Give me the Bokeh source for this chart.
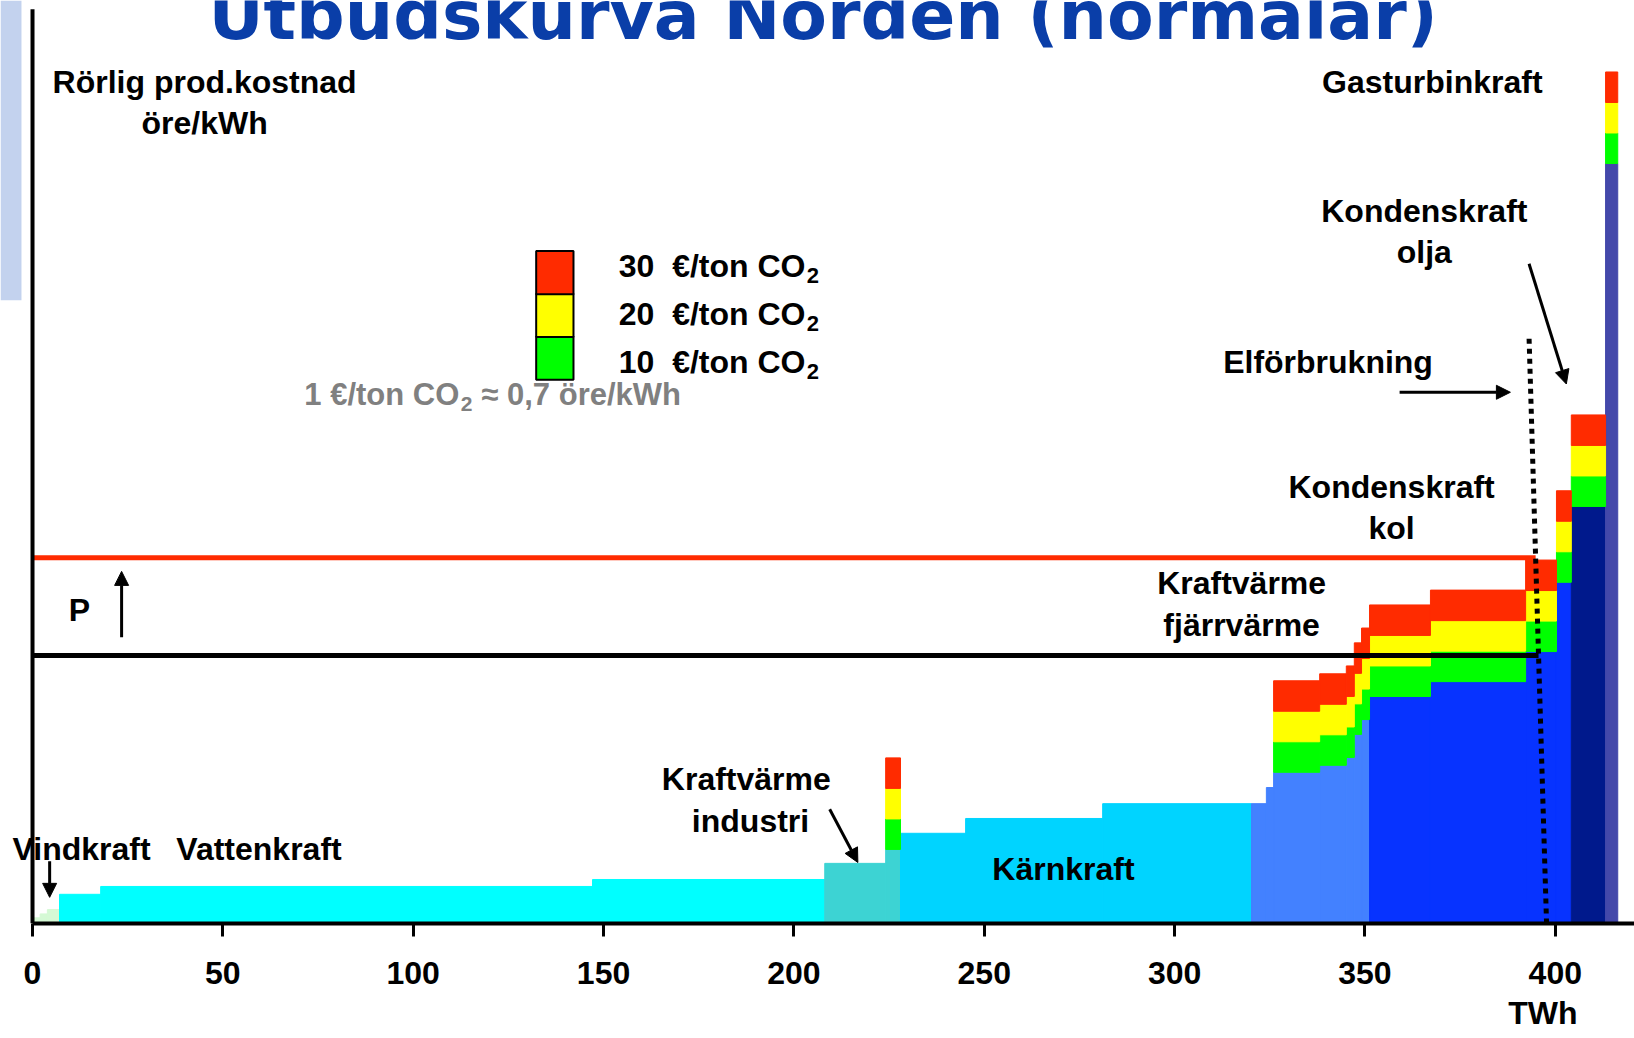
import numpy as np
from bokeh.plotting import figure
from bokeh.models import (Range1d, LinearAxis, FixedTicker, Arrow, NormalHead,
                          Title, BoxAnnotation)
from bokeh.core.properties import value
from bokeh.embed import file_html
from bokeh.resources import INLINE

# ---------------- data ----------------
technology = (["Vindkraft"] * 3 + ["Vattenkraft"] * 3 + ["Kraftvärme industri"] * 2 +
              ["Kärnkraft"] * 3 + ["Kraftvärme fjärrvärme"] * 7 + ["Kondenskraft kol"] * 4 +
              ["Kondenskraft olja"] + ["Gasturbinkraft"])
twh_start = [0.0, 2.0, 3.9, 7.1, 17.9, 147.1, 208.1, 224.1, 228.0, 245.1, 281.1,
             320.2, 324.1, 326.0, 338.1, 345.1, 347.2, 349.1,
             351.2, 367.2, 392.2, 400.3, 404.2, 413.2]
twh_end = [2.0, 3.9, 7.1, 17.9, 147.1, 208.1, 224.1, 228.0, 245.1, 281.1, 320.2,
           324.1, 326.0, 338.1, 345.1, 347.2, 349.1, 351.2,
           367.2, 392.2, 400.3, 404.2, 413.2, 416.4]
cost_ore_kwh = [1.3, 2.2, 3.2, 6.7, 8.5, 10.1, 13.8, 17.0, 20.7, 24.1, 27.5,
                27.5, 31.2, 34.7, 36.3, 38.1, 43.4, 46.8,
                52.1, 55.5, 62.4, 78.3, 95.7, 174.4]
co2_add_per_10eur = [0, 0, 0, 0, 0, 0, 0, 7, 0, 0, 0,
                     0, 0, 7, 7, 7, 7, 7,
                     7, 7, 7, 7, 7, 7]
co2_levels = [10, 20, 30]           # €/ton CO2
price_no_co2 = 61.5                 # öre/kWh
price_co2_30 = 83.9                 # öre/kWh
demand_cost = [0.0, 134.5]          # öre/kWh
demand_twh = [397.7, 393.1]         # TWh
x_ticks = [0, 50, 100, 150, 200, 250, 300, 350, 400]

# ---------------- styling ----------------
tech_color = {
    "Vindkraft": "#d5f9d5",
    "Vattenkraft": "#00ffff",
    "Kraftvärme industri": "#3dd3d3",
    "Kärnkraft": "#00d4ff",
    "Kraftvärme fjärrvärme": "#4381ff",
    "Kondenskraft kol": "#0733ff",
    "Kondenskraft olja": "#00198c",
    "Gasturbinkraft": "#4448aa",
}
level_color = {10: "#00ff00", 20: "#ffff00", 30: "#ff2b00"}
FONT = value("Liberation Sans")

X0, X1 = -8.41, 420.8
Y1 = 211.8
p = figure(width=1634, height=1038, output_backend="svg", toolbar_location=None,
           x_range=Range1d(X0, X1), y_range=Range1d(0, Y1),
           x_axis_location=None, y_axis_location=None,
           min_border_left=0, min_border_right=0, min_border_top=0,
           min_border_bottom=115)
p.grid.grid_line_color = None
p.outline_line_color = None
p.background_fill_color = "white"
p.border_fill_color = "white"

# slide decoration at the left edge
p.add_layout(BoxAnnotation(left=X0, right=-2.9, bottom=143, top=Y1,
                           fill_color="#c3d2ee", fill_alpha=1.0, line_color=None))

# base blocks
cols = [tech_color[t] for t in technology]
p.quad(left=twh_start, right=twh_end, bottom=0, top=cost_ore_kwh,
       fill_color=cols, line_color=cols, line_width=1)

# CO2 layers
for i, lvl in enumerate(co2_levels):
    L, R, B, T = [], [], [], []
    for s, e, c, d in zip(twh_start, twh_end, cost_ore_kwh, co2_add_per_10eur):
        if d > 0:
            L.append(s); R.append(e); B.append(c + i * d); T.append(c + (i + 1) * d)
    p.quad(left=L, right=R, bottom=B, top=T, fill_color=level_color[lvl],
           line_color=level_color[lvl], line_width=1)

# price lines up to demand curve
for price, colr in [(price_co2_30, "#ff2b00"), (price_no_co2, "black")]:
    x_end = float(np.interp(price, demand_cost, demand_twh))
    p.line([0, x_end], [price, price], line_color=colr, line_width=5)

# demand (Elförbrukning) dotted line
p.line(demand_twh, demand_cost, line_color="black", line_width=5, line_dash="5 5")

# y axis line (no ticks) and x axis
p.line([0, 0], [0, 209.8], line_color="black", line_width=4)
xaxis = LinearAxis(ticker=FixedTicker(ticks=x_ticks), bounds=(0, X1))
xaxis.axis_line_width = 4
xaxis.axis_line_color = "black"
xaxis.major_tick_line_width = 3
xaxis.major_tick_out = 13
xaxis.major_tick_in = 0
xaxis.minor_tick_line_color = None
xaxis.major_label_text_font = "Liberation Sans"
xaxis.major_label_text_font_style = "bold"
xaxis.major_label_text_font_size = "32px"
xaxis.major_label_text_color = "black"
xaxis.major_label_standoff = 25
p.add_layout(xaxis, "below")

# unit of the x axis, bottom right
p.add_layout(Title(text="TWh", align="right", offset=57, standoff=13,
                   text_font="Liberation Sans", text_font_style="bold",
                   text_font_size="32px", text_color="black"), "below")

# legend swatches
sw_left, sw_right = 132.3, 142.1
sw_bottoms = {10: 124.8, 20: 134.6, 30: 144.4}
sw_h = 9.9
for lvl in co2_levels:
    p.quad(left=[sw_left], right=[sw_right], bottom=[sw_bottoms[lvl]],
           top=[sw_bottoms[lvl] + sw_h], fill_color=level_color[lvl],
           line_color="black", line_width=2)
leg_y = [150.9, 139.9, 128.8]
p.text(x=[154.0] * 3, y=leg_y,
       text=[f"{lvl}\u00a0 €/ton CO" for lvl in [30, 20, 10]],
       text_font=FONT, text_font_style="bold", text_font_size="32px",
       text_align="left", text_baseline="middle", text_color="black")
p.text(x=[203.4] * 3, y=[v - 2.2 for v in leg_y], text=["2"] * 3,
       text_font=FONT, text_font_style="bold", text_font_size="22px",
       text_align="left", text_baseline="middle", text_color="black")
# conversion note
p.text(x=[71.4, 117.9], y=[121.4, 121.4], text=["1 €/ton CO", "≈ 0,7 öre/kWh"],
       text_font=FONT, text_font_style="bold", text_font_size="31px",
       text_align="left", text_baseline="middle", text_color="#808080")
p.text(x=[112.5], y=[119.2], text=["2"],
       text_font=FONT, text_font_style="bold", text_font_size="21px",
       text_align="left", text_baseline="middle", text_color="#808080")

# title (cut by the top of the slide, as in the original)
p.text(x=[46.2], y=[208.3], text=["Utbudskurva Norden (normalar)"],
       text_font=value("DejaVu Sans"), text_font_style="bold", text_font_size="68px",
       text_align="left", text_baseline="alphabetic", text_color="#0a3ea8")

# annotation texts
ann = [
    ("Rörlig prod.kostnad", 45.2, 193.2), ("öre/kWh", 45.2, 183.6),
    ("Gasturbinkraft", 367.7, 193.2),
    ("Kondenskraft", 365.6, 163.5), ("olja", 365.6, 154.0),
    ("Elförbrukning", 340.3, 128.8),
    ("Kondenskraft", 357.0, 100.2), ("kol", 357.0, 90.7),
    ("Kraftvärme", 317.6, 78.1), ("fjärrvärme", 317.6, 68.4),
    ("P", 12.3, 71.9),
    ("Kraftvärme", 187.5, 33.2), ("industri", 188.6, 23.6),
    ("Vindkraft", 12.9, 17.2), ("Vattenkraft", 59.5, 17.2),
    ("Kärnkraft", 270.8, 12.4),
]
p.text(x=[a[1] for a in ann], y=[a[2] for a in ann], text=[a[0] for a in ann],
       text_font=FONT, text_font_style="bold", text_font_size="32px",
       text_align="center", text_baseline="middle", text_color="black")

# arrows
arrows = [
    (4.5, 14.3, 4.5, 6.0),
    (209.4, 26.2, 216.8, 14.0),
    (23.4, 65.7, 23.4, 80.8),
    (359.1, 121.9, 388.2, 121.9),
    (393.1, 151.4, 402.9, 123.8),
]
for xs, ys, xe, ye in arrows:
    p.add_layout(Arrow(end=NormalHead(size=14, fill_color="black", line_color="black"),
                       x_start=xs, y_start=ys, x_end=xe, y_end=ye,
                       line_color="black", line_width=3))

open("out.html", "w").write(file_html(p, INLINE))
